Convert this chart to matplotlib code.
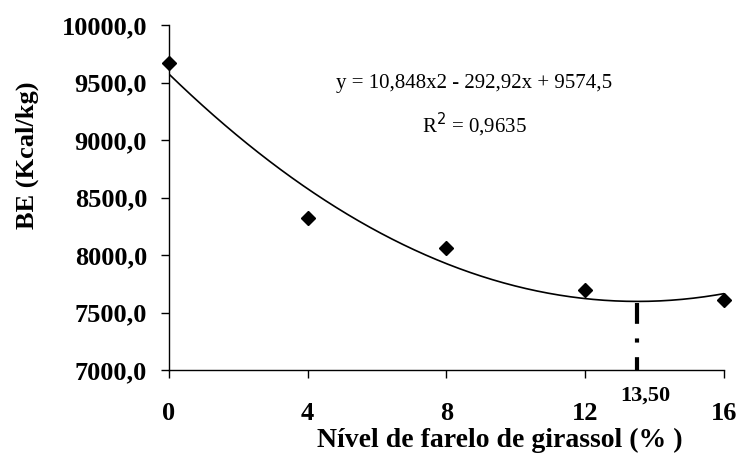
import numpy as np
import matplotlib
matplotlib.use('Agg')
import matplotlib.pyplot as plt

# observed values
nivel = [0, 4, 8, 12, 16]
be = [9675, 8325, 8065, 7700, 7610]

# trendline coefficients as printed on the chart
coef = [10.848, -292.92, 9574.5]
x_min = 13.5

xticks = [0, 4, 8, 12, 16]
yticks = [7000, 7500, 8000, 8500, 9000, 9500, 10000]

plt.rcParams['font.family'] = ['Liberation Serif', 'DejaVu Serif']

fig = plt.figure(figsize=(7.38, 4.58), dpi=100)
ax = fig.add_axes([0.229, 0.192, 0.752, 0.753])

xs = np.linspace(0, 16, 200)
ax.plot(xs, np.polyval(coef, xs), color='black', lw=1.2, zorder=2)
ax.plot(nivel, be, linestyle='none', marker='D', color='black', markersize=7.5, zorder=3, clip_on=False)

# minimum of the curve
ax.plot([x_min, x_min], [np.polyval(coef, x_min) - 15, 7000], color='black', lw=3,
        linestyle=(0, (5, 3.5, 1, 3.5)), solid_capstyle='butt', dash_capstyle='butt')
ax.annotate('13,50', (x_min, 6780), xytext=(6, 0), textcoords='offset points',
            ha='center', va='center', fontsize=16, fontweight='bold', annotation_clip=False)

ax.set_xlim(0, 16)
ax.set_ylim(7000, 10000)
ax.set_xticks(xticks)
ax.set_yticks(yticks)
ax.set_xticklabels([str(t) for t in xticks], fontsize=19, fontweight='bold')
ax.set_yticklabels(['%d,0' % t for t in yticks], fontsize=19, fontweight='bold')
ax.tick_params(axis='x', direction='out', length=5.8, width=1, pad=17)
ax.tick_params(axis='y', direction='out', length=5.8, width=1, pad=10)
for s in ['top', 'right']:
    ax.spines[s].set_visible(False)
for s in ['left', 'bottom']:
    ax.spines[s].set_linewidth(1)

ax.set_xlabel('Nível de farelo de girassol (% )', fontsize=20, fontweight='bold', labelpad=2, x=0.596)
ax.set_ylabel('BE (Kcal/kg)', fontsize=19, fontweight='bold', labelpad=16, y=0.623)

ax.text(0.55, 0.832, 'y = 10,848x2 - 292,92x + 9574,5', transform=ax.transAxes,
        ha='center', va='center', fontsize=15)
ax.text(0.55, 0.712, r'R$^{2}$ = 0,9635', transform=ax.transAxes,
        ha='center', va='center', fontsize=15)

fig.savefig('out.png', dpi=100)
